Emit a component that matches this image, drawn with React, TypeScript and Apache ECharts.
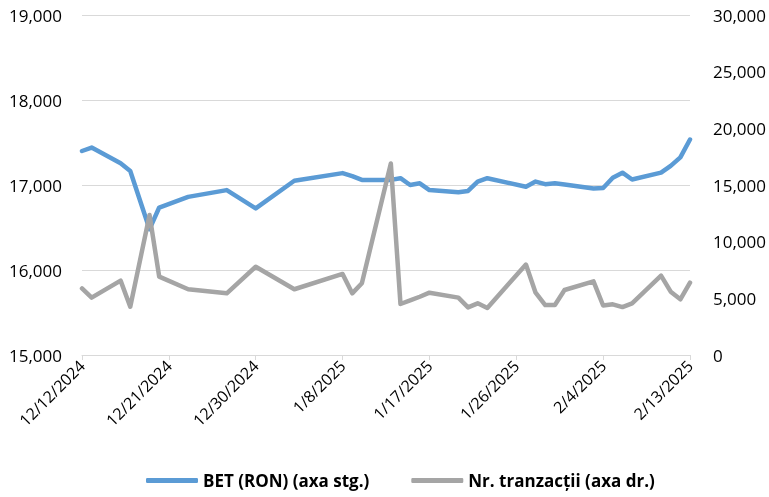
import React, { useEffect, useRef } from "react";
import * as echarts from "echarts";

const dates = [
  "2024-12-12", "2024-12-13", "2024-12-16", "2024-12-17", "2024-12-19", "2024-12-20",
  "2024-12-23", "2024-12-27", "2024-12-30", "2025-01-03", "2025-01-08", "2025-01-09",
  "2025-01-10", "2025-01-13", "2025-01-14", "2025-01-15", "2025-01-16", "2025-01-17",
  "2025-01-20", "2025-01-21", "2025-01-22", "2025-01-23", "2025-01-27", "2025-01-28",
  "2025-01-29", "2025-01-30", "2025-01-31", "2025-02-03", "2025-02-04", "2025-02-05",
  "2025-02-06", "2025-02-07", "2025-02-10", "2025-02-11", "2025-02-12", "2025-02-13",
];

const betValues = [
  17400, 17440, 17255, 17165, 16480, 16735,
  16860, 16940, 16725, 17050, 17140, 17105,
  17060, 17060, 17080, 17000, 17020, 16940,
  16915, 16930, 17040, 17080, 16980, 17040,
  17010, 17020, 17005, 16960, 16965, 17085,
  17145, 17065, 17145, 17225, 17325, 17535,
];

const tradeValues = [
  5870, 5060, 6560, 4260, 12350, 6910,
  5800, 5440, 7790, 5800, 7150, 5440,
  6330, 16900, 4500, 4810, 5140, 5500,
  5060, 4200, 4560, 4150, 7980, 5500,
  4410, 4410, 5735, 6500, 4370, 4470,
  4230, 4560, 7000, 5585, 4915, 6380,
];

const seriesNames = ["BET (RON) (axa stg.)", "Nr. tranzacții (axa dr.)"];
const startDate = "2024-12-12";
const endDate = "2025-02-13";
const tickDays = 9;

const DAY = 86400000;
const toMs = (s: string) => {
  const [y, m, d] = s.split("-").map(Number);
  return Date.UTC(y, m - 1, d);
};
const dayOffset = (s: string) => Math.round((toMs(s) - toMs(startDate)) / DAY);
const fmtDay = (d: number) => {
  const dt = new Date(toMs(startDate) + d * DAY);
  return `${dt.getUTCMonth() + 1}/${dt.getUTCDate()}/${dt.getUTCFullYear()}`;
};
const fmtNum = (v: number) => Math.round(v).toLocaleString("en-US");

export default function App() {
  const ref = useRef<HTMLDivElement>(null);
  useEffect(() => {
    if (!ref.current) return;
    const chart = echarts.init(ref.current, undefined, { renderer: "svg" });
    const font = "'Open Sans', sans-serif";
    const maxDay = dayOffset(endDate);
    chart.setOption({
      animation: false,
      textStyle: { fontFamily: font },
      grid: { left: 82, right: 79, top: 15, bottom: 142, containLabel: false },
      legend: {
        bottom: 3,
        left: 141,
        itemWidth: 52,
        itemHeight: 5,
        itemGap: 42,
        icon: "roundRect",
        textStyle: { fontFamily: font, fontSize: 17, fontWeight: "bold", color: "#000" },
        data: seriesNames,
      },
      xAxis: {
        type: "value",
        min: 0,
        max: maxDay,
        interval: tickDays,
        splitLine: { show: false },
        axisLine: { show: true, lineStyle: { color: "#D9D9D9", width: 1 } },
        axisTick: { show: true, length: 5, lineStyle: { color: "#D9D9D9" } },
        axisLabel: {
          rotate: 45,
          margin: 8,
          fontSize: 16,
          color: "#000",
          fontFamily: font,
          formatter: (v: number) => fmtDay(v),
        },
      },
      yAxis: [
        {
          type: "value",
          min: 15000,
          max: 19000,
          interval: 1000,
          axisLine: { show: false },
          axisTick: { show: false },
          splitLine: { show: true, lineStyle: { color: "#D9D9D9", width: 1 } },
          axisLabel: { margin: 20, fontSize: 17, color: "#000", fontFamily: font, formatter: fmtNum },
        },
        {
          type: "value",
          min: 0,
          max: 30000,
          interval: 5000,
          axisLine: { show: false },
          axisTick: { show: false },
          splitLine: { show: false },
          axisLabel: { margin: 23, fontSize: 17, color: "#000", fontFamily: font, formatter: fmtNum },
        },
      ],
      series: [
        {
          name: seriesNames[0],
          type: "line",
          yAxisIndex: 0,
          showSymbol: false,
          symbol: "none",
          color: "#5B9BD5",
          lineStyle: { width: 4.5, color: "#5B9BD5", join: "round", cap: "round" },
          data: dates.map((d, i) => [dayOffset(d), betValues[i]]),
          z: 2,
        },
        {
          name: seriesNames[1],
          type: "line",
          yAxisIndex: 1,
          showSymbol: false,
          symbol: "none",
          color: "#A5A5A5",
          lineStyle: { width: 4.5, color: "#A5A5A5", join: "round", cap: "round" },
          data: dates.map((d, i) => [dayOffset(d), tradeValues[i]]),
          z: 3,
        },
      ],
    });
    return () => chart.dispose();
  }, []);
  return (
    <div
      ref={ref}
      style={{ position: "fixed", left: 0, top: 0, width: 769, height: 497 }}
    />
  );
}
